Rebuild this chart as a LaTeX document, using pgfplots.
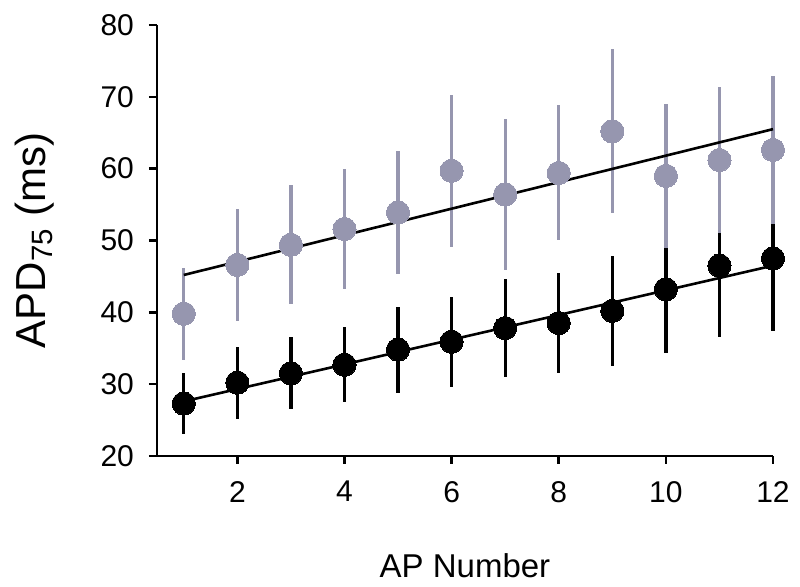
\documentclass[border=0pt]{standalone}
\usepackage{pgfplots}
\pgfplotsset{compat=1.18}
\usepackage{pgfplotstable}
\usepackage{fontspec}
\setmainfont{Liberation Sans}
\definecolor{apdgrey}{RGB}{150,150,175}

% AP number, mean APD75, SD
\pgfplotstableread{
x y e
1 27.3 4.2
2 30.2 5.0
3 31.5 5.0
4 32.7 5.2
5 34.8 6.0
6 35.9 6.3
7 37.8 6.8
8 38.5 7.0
9 40.2 7.7
10 43.2 8.8
11 46.5 9.9
12 47.5 10.1
}\blackdata
\pgfplotstableread{
x y e
1 39.8 6.4
2 46.6 7.8
3 49.4 8.3
4 51.6 8.4
5 53.9 8.6
6 59.7 10.6
7 56.4 10.5
8 59.4 9.4
9 65.2 11.4
10 59.0 10.0
11 61.2 10.2
12 62.6 10.3
}\greydata

\begin{document}
\begin{tikzpicture}
\begin{axis}[
    scale only axis,
    width=308pt, height=215.5pt,
    xmin=0.5, xmax=12, ymin=20, ymax=80,
    axis x line=bottom, axis y line=left,
    axis line style={-, line width=1.3pt},
    tick style={line width=1.3pt, black},
    tick align=outside,
    major tick length=4pt,
    xtick={2,4,...,12}, ytick={20,30,...,80},
    /pgf/number format/assume math mode=true,
    tick label style={font=\fontsize{15}{17}\selectfont},
    xticklabel style={yshift=-5pt},
    yticklabel style={xshift=-4pt},
    xlabel={AP Number},
    ylabel={APD\textsubscript{75} (ms)},
    xlabel style={font=\fontsize{16.5}{18}\selectfont, at={(axis description cs:0.5,-0.255)}, anchor=center},
    ylabel style={font=\fontsize{21}{23}\selectfont, at={(axis description cs:-0.198,0.5)}, anchor=center},
    clip=false,
]
% error bars: black first, grey on top
\addplot[draw=none, mark=none, forget plot,
    error bars/.cd, y dir=both, y explicit, error mark=none,
    error bar style={draw=black, line width=1.65pt}]
    table[x=x, y=y, y error=e] {\blackdata};
\addplot[draw=none, mark=none, forget plot,
    error bars/.cd, y dir=both, y explicit, error mark=none,
    error bar style={draw=apdgrey, line width=1.65pt}]
    table[x=x, y=y, y error=e] {\greydata};
% linear fits
\addplot[black, line width=1.3pt, mark=none] coordinates {(1,27.6) (12,46.5)};
\addplot[black, line width=1.3pt, mark=none] coordinates {(1,45.2) (12,65.5)};
% means
\addplot[black, only marks, mark=*, mark size=5.8pt, mark options={draw=black, fill=black, line width=0pt}]
    table[x=x, y=y] {\blackdata};
\addplot[apdgrey, only marks, mark=*, mark size=5.8pt, mark options={draw=apdgrey, fill=apdgrey, line width=0pt}]
    table[x=x, y=y] {\greydata};
\end{axis}
\path (current axis.south west) ++(-78.5pt,-65.5pt) rectangle ++(400pt,293.5pt);
\end{tikzpicture}
\end{document}
